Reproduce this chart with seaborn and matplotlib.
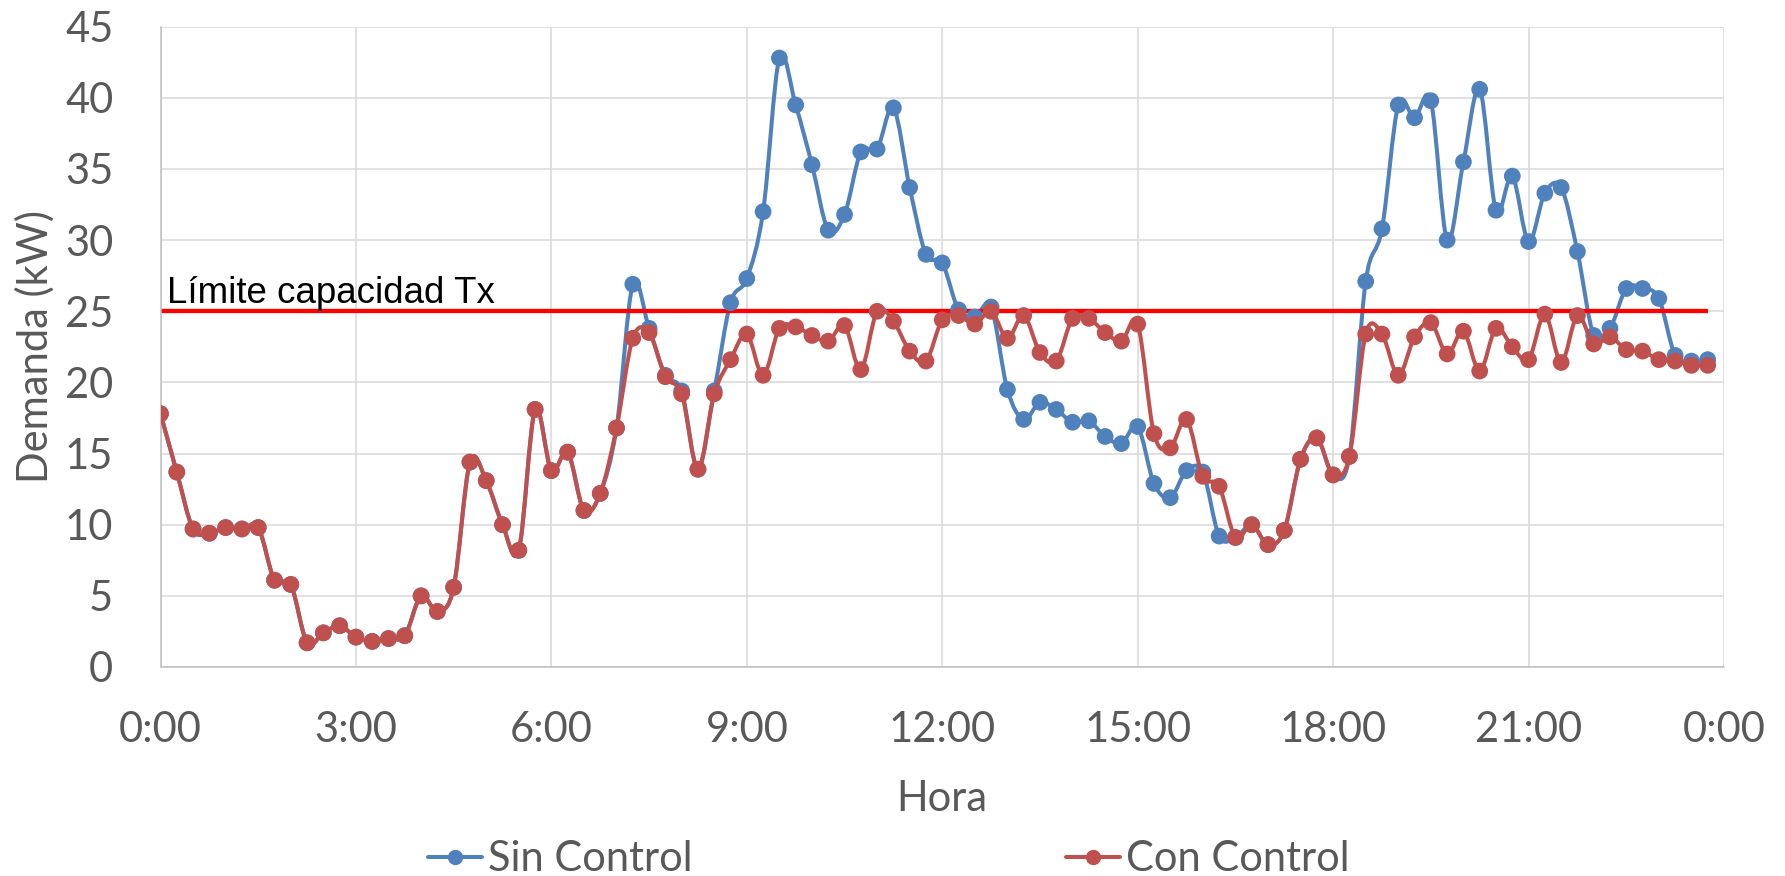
import numpy as np
import pandas as pd
import matplotlib
matplotlib.use("Agg")
import matplotlib.pyplot as plt
from matplotlib.path import Path
from matplotlib.patches import PathPatch
from matplotlib.lines import Line2D
import seaborn as sns

# Demand in kW, one reading every 15 minutes (00:00 .. 23:45)
horas = np.arange(96) * 0.25

sin_control = [
    17.8, 13.7, 9.7, 9.4, 9.8, 9.7, 9.8, 6.1, 5.8, 1.7, 2.4, 2.9, 2.1, 1.8, 2.0, 2.2,
    5.0, 3.9, 5.6, 14.4, 13.1, 10.0, 8.2, 18.1, 13.8, 15.1, 11.0, 12.2, 16.8,
    26.9, 23.8, 20.5, 19.4, 13.9, 19.4, 25.6, 27.3, 32.0, 42.8, 39.5, 35.3, 30.7,
    31.8, 36.2, 36.4, 39.3, 33.7, 29.0, 28.4, 25.1, 24.6, 25.3, 19.5, 17.4, 18.6,
    18.1, 17.2, 17.3, 16.2, 15.7, 16.9, 12.9, 11.9, 13.8,
    13.7, 9.2, 9.1, 10.0, 8.6, 9.6, 14.6, 16.1, 13.5, 14.8, 27.1, 30.8, 39.5, 38.6,
    39.8, 30.0, 35.5, 40.6, 32.1, 34.5, 29.9, 33.3, 33.7, 29.2, 23.3, 23.8, 26.6,
    26.6, 25.9, 21.9, 21.5, 21.6,
]

con_control = [
    17.8, 13.7, 9.7, 9.4, 9.8, 9.7, 9.8, 6.1, 5.8, 1.7, 2.4, 2.9, 2.1, 1.8, 2.0, 2.2,
    5.0, 3.9, 5.6, 14.4, 13.1, 10.0, 8.2, 18.1, 13.8, 15.1, 11.0, 12.2, 16.8,
    23.1, 23.5, 20.4, 19.2, 13.9, 19.2, 21.6, 23.4, 20.5, 23.8, 23.9, 23.3, 22.9,
    24.0, 20.9, 25.0, 24.3, 22.2, 21.5, 24.4, 24.7, 24.1, 25.0, 23.1, 24.7, 22.1,
    21.5, 24.5, 24.5, 23.5, 22.9, 24.1, 16.4, 15.4, 17.4,
    13.4, 12.7, 9.1, 10.0, 8.6, 9.6, 14.6, 16.1, 13.5, 14.8, 23.4, 23.4, 20.5, 23.2,
    24.2, 22.0, 23.6, 20.8, 23.8, 22.5, 21.6, 24.8, 21.4, 24.7, 22.7, 23.2, 22.3,
    22.2, 21.6, 21.5, 21.2, 21.2,
]

limite_tx = 25.0
limite_horas = [0.0, 23.75]
series = ["Sin Control", "Con Control"]
tick_horas = [0, 3, 6, 9, 12, 15, 18, 21, 24]
tick_labels = ["0:00", "3:00", "6:00", "9:00", "12:00", "15:00", "18:00", "21:00", "0:00"]
y_ticks = list(range(0, 46, 5))

AZUL = "#4F81BD"
ROJO = "#C0504D"
TEXTO = "#595959"
REJILLA = "#D9D9D9"
EJE = "#BFBFBF"

sns.set_theme(style="whitegrid")
plt.rcParams["font.family"] = ["Lato", "DejaVu Sans"]

W, H = 1785, 876
fig = plt.figure(figsize=(W / 100, H / 100), dpi=100)
x0, x1, y0, y1 = 160.5, 1724.0, 26.7, 667.0
ax = fig.add_axes([x0 / W, 1 - y1 / H, (x1 - x0) / W, (y1 - y0) / H])
ax.set_facecolor("white")


def curva_suave(x, y):
    """Bezier path through every point (Catmull-Rom tangents)."""
    pts = np.column_stack([x, y]).astype(float)
    n = len(pts)
    verts = [pts[0]]
    codes = [Path.MOVETO]
    for i in range(n - 1):
        p0 = pts[i - 1] if i > 0 else pts[i]
        p1 = pts[i]
        p2 = pts[i + 1]
        p3 = pts[i + 2] if i + 2 < n else pts[i + 1]
        verts += [p1 + (p2 - p0) / 6.0, p2 - (p3 - p1) / 6.0, p2]
        codes += [Path.CURVE4] * 3
    return Path(verts, codes)


LW = 2.9
MS = 145

df = pd.DataFrame({
    "hora": np.concatenate([horas, horas]),
    "demanda": np.concatenate([sin_control, con_control]),
    "serie": np.repeat(series, len(horas)),
})

# capacity limit of the transformer
ax.plot(limite_horas, [limite_tx, limite_tx], color="#FF0000", lw=3.1,
        solid_capstyle="butt", zorder=2.5)

for k, (nombre, color) in enumerate(zip(series, [AZUL, ROJO])):
    sub = df[df["serie"] == nombre]
    ax.add_patch(PathPatch(curva_suave(sub["hora"], sub["demanda"]),
                           facecolor="none", edgecolor=color, lw=LW,
                           capstyle="round", joinstyle="round", zorder=2 + k))
    sns.scatterplot(data=sub, x="hora", y="demanda", color=color, s=MS,
                    edgecolor="none", linewidth=0, legend=False, ax=ax,
                    zorder=2.6 + k)

ax.text(0.1, limite_tx + 0.6, "Límite capacidad Tx", fontsize=26.5,
        family=["Liberation Sans", "DejaVu Sans"], color="black",
        va="baseline", ha="left", zorder=5)

ax.set_xlim(0, 24)
ax.set_ylim(0, 45)
ax.set_xticks(tick_horas)
ax.set_xticklabels(tick_labels)
ax.set_yticks(y_ticks)
ax.grid(True, color=REJILLA, lw=1.1)
ax.set_axisbelow(True)
for s in ["top", "right"]:
    ax.spines[s].set_visible(False)
for s in ["left", "bottom"]:
    ax.spines[s].set_visible(True)
    ax.spines[s].set_color(EJE)
    ax.spines[s].set_linewidth(1.1)

ax.tick_params(axis="both", length=0, labelsize=30, labelcolor=TEXTO)
ax.tick_params(axis="x", pad=32)
ax.tick_params(axis="y", pad=34)

ax.set_xlabel("Hora", fontsize=30, color=TEXTO)
ax.set_ylabel("Demanda (kW)", fontsize=30, color=TEXTO)
ax.xaxis.set_label_coords(0.5, -0.176)
ax.yaxis.set_label_coords(-0.0675, 0.5)

handles = [
    Line2D([], [], color=AZUL, lw=LW, marker="o", markersize=10),
    Line2D([], [], color=ROJO, lw=LW, marker="o", markersize=10),
]
fig.legend(handles, series, loc="center", bbox_to_anchor=(0.498, 0.019),
           ncol=2, frameon=False, fontsize=30, labelcolor=TEXTO,
           handlelength=1.3, handletextpad=0.14, columnspacing=8.97,
           borderpad=0, borderaxespad=0)

fig.savefig("out.png", dpi=100, facecolor="white")
